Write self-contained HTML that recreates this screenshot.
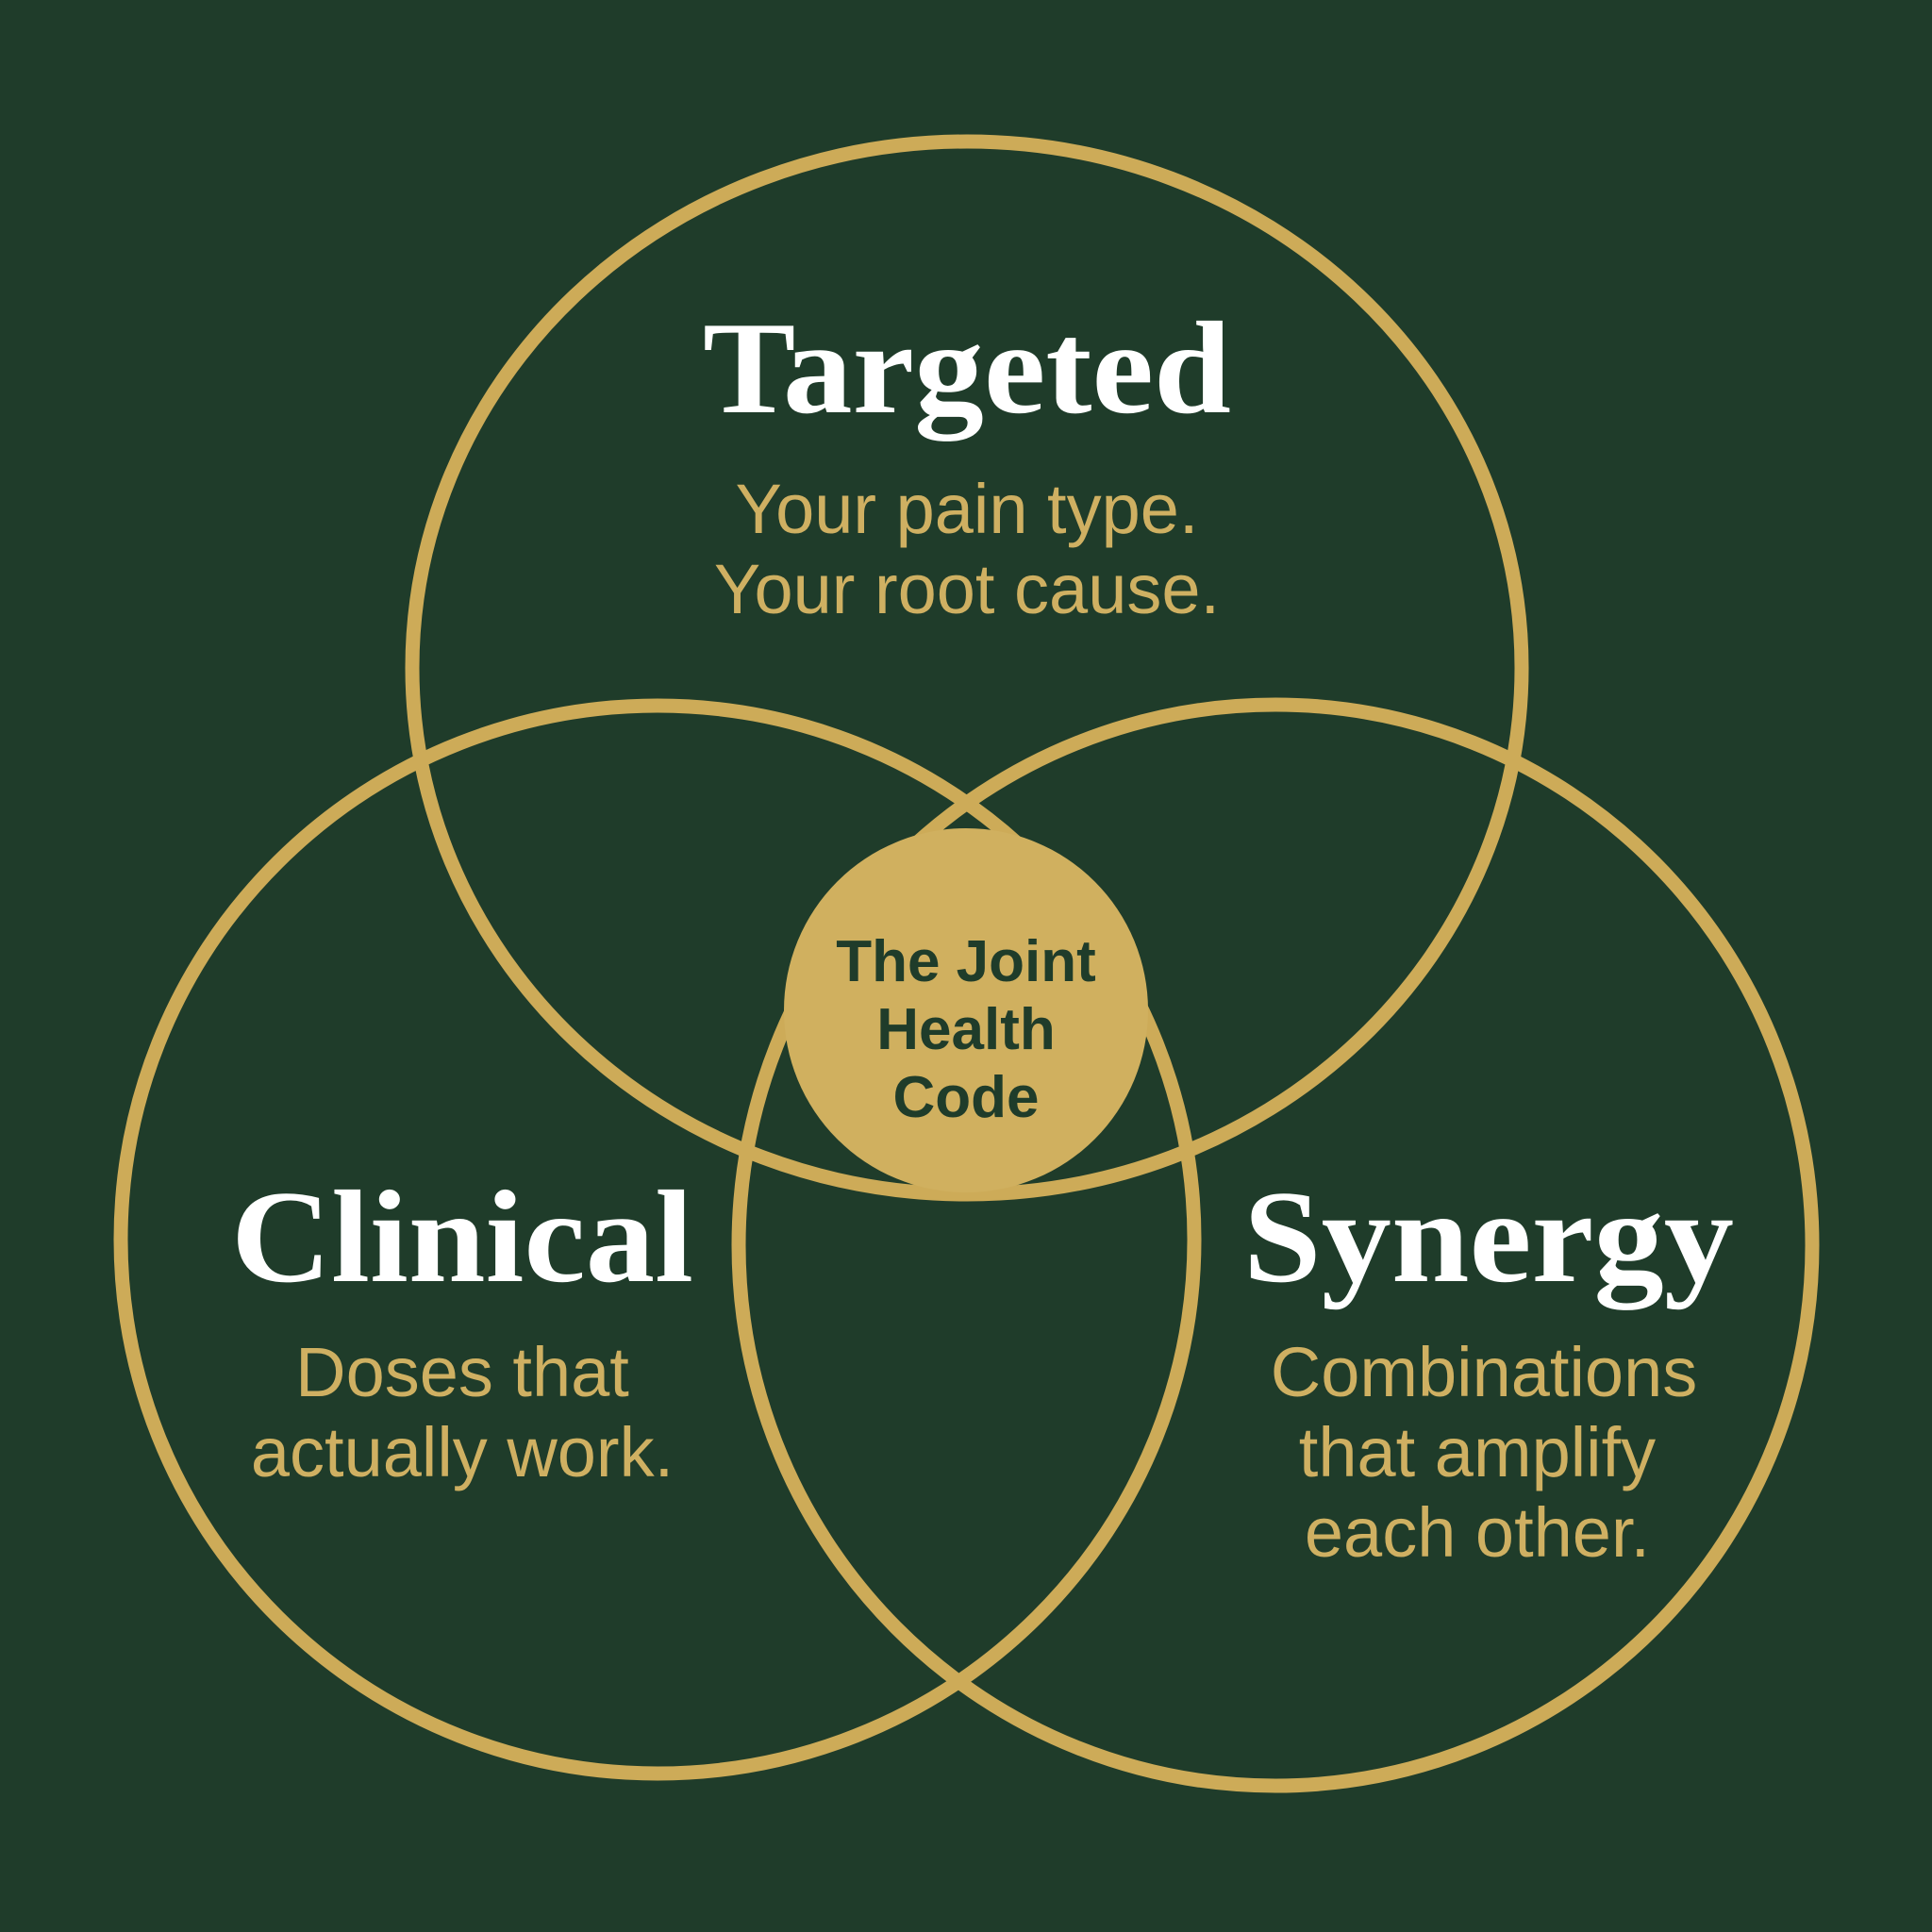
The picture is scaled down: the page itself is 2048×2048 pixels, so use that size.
<!DOCTYPE html>
<html><head><meta charset="utf-8"><style>
html,body{margin:0;padding:0;background:#1f3c2a;}
svg{display:block}
.s{font-family:"Liberation Sans Narrow","Liberation Sans",sans-serif;fill:#cfb062;font-size:74px;text-anchor:middle}
.h{font-family:"Liberation Serif",serif;font-weight:bold;fill:#fff;font-size:140px;text-anchor:middle}
.c{font-family:"Liberation Sans Narrow","Liberation Sans",sans-serif;font-weight:bold;fill:#1f3c2a;font-size:62px;text-anchor:middle}
</style></head><body>
<svg width="2048" height="2048" viewBox="0 0 2048 2048">
<rect width="2048" height="2048" fill="#1f3c2a"/>
<g fill="none" stroke="#cdab58" stroke-width="15">
<ellipse cx="1025" cy="708" rx="588" ry="558"/>
<ellipse cx="697" cy="1314" rx="569" ry="566"/>
<ellipse cx="1352" cy="1320" rx="569" ry="573"/>
</g>
<circle cx="1024" cy="1071" r="193" fill="#d0b05f"/>
<text class="h" x="1025" y="437" textLength="560" lengthAdjust="spacingAndGlyphs">Targeted</text>
<text class="s" x="1025" y="565">Your pain type.</text>
<text class="s" x="1025" y="650">Your root cause.</text>
<text class="h" x="490" y="1358" textLength="490" lengthAdjust="spacingAndGlyphs">Clinical</text>
<text class="s" x="490" y="1480">Doses that</text>
<text class="s" x="490" y="1565">actually work.</text>
<text class="h" x="1578" y="1358" textLength="520" lengthAdjust="spacingAndGlyphs">Synergy</text>
<text class="s" x="1573" y="1480">Combinations</text>
<text class="s" x="1566" y="1565">that amplify</text>
<text class="s" x="1566" y="1650">each other.</text>
<text class="c" x="1024" y="1040">The Joint</text>
<text class="c" x="1024" y="1112">Health</text>
<text class="c" x="1024" y="1184">Code</text>
</svg>
</body></html>
